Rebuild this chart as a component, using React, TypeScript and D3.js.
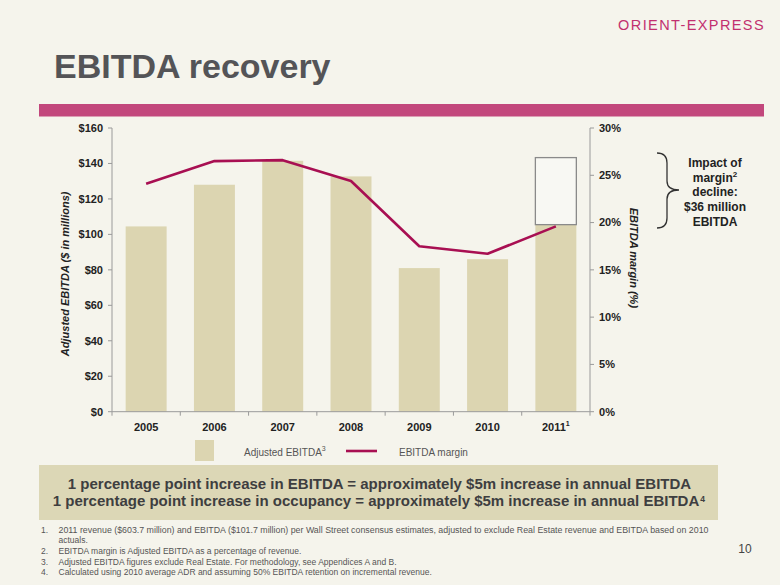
import React, { useLayoutEffect, useRef, useState } from 'react';
import * as d3 from 'd3';

const years = ['2005', '2006', '2007', '2008', '2009', '2010', '2011'];
const ebitda = [104.5, 128, 141.5, 132.7, 81, 86, 105.5];
const margin = [24.1, 26.5, 26.6, 24.4, 17.5, 16.7, 19.6];
const impactTop = 143.3; // top of the "margin decline" box on the 2011 bar
const leftTicks = [0, 20, 40, 60, 80, 100, 120, 140, 160];
const rightTicks = [0, 5, 10, 15, 20, 25, 30];
const braceLines = ['Impact of', 'margin', 'decline:', '$36 million', 'EBITDA'];
const highlight = [
  '1 percentage point increase in EBITDA = approximately $5m increase in annual EBITDA',
  '1 percentage point increase in occupancy = approximately $5m increase in annual EBITDA',
];
const footnotes = [
  '2011 revenue ($603.7 million) and EBITDA ($101.7 million) per Wall Street consensus estimates, adjusted to exclude Real Estate revenue and EBITDA based on 2010',
  'EBITDA margin is Adjusted EBITDA as a percentage of revenue.',
  'Adjusted EBITDA figures exclude Real Estate. For methodology, see Appendices A and B.',
  'Calculated using 2010 average ADR and assuming 50% EBITDA retention on incremental revenue.',
];

const BG = '#f5f4ec';
const BAR = '#dcd5b1';
const LINE = '#a80f52';
const AXIS = '#9a9a9a';
const FONT = 'Liberation Sans, Arial, sans-serif';
const NARROW = '"Liberation Sans Narrow", "Arial Narrow", Liberation Sans, Arial, sans-serif';

const App: React.FC = () => {
  const W = 780, H = 585;
  const left = 112, right = 590, top = 128, bottom = 411.7;

  // measure the second highlight line so the footnote mark sits right after it
  const line2Ref = useRef<SVGTextElement>(null);
  const [w2, setW2] = useState(650);
  useLayoutEffect(() => {
    if (line2Ref.current) setW2(line2Ref.current.getComputedTextLength());
  }, []);
  const line2X = 379 - (w2 + 6) / 2;

  const x = d3.scaleBand<string>().domain(years).range([left, right]).paddingInner(0.4).paddingOuter(0.2);
  const yL = d3.scaleLinear().domain([0, 160]).range([bottom, top]);
  const yR = d3.scaleLinear().domain([0, 30]).range([bottom, top]);
  const step = x.step();

  const line = d3.line<number>()
    .x((_, i) => (x(years[i]) || 0) + x.bandwidth() / 2)
    .y(d => yR(d));

  const last = years[years.length - 1];
  const boxX = x(last) || 0;

  return (
    <svg width={W} height={H} style={{ position: 'absolute', left: 0, top: 0 }} fontFamily={FONT}>
      <rect x={0} y={0} width={W} height={H} fill={BG} />

      {/* header */}
      <text x={765} y={30} textAnchor="end" fontSize={14.5} letterSpacing={1.4} fill="#c2306f">ORIENT-EXPRESS</text>
      <text x={54} y={78} fontSize={34} fontWeight="bold" fill="#545457">EBITDA recovery</text>
      <rect x={39} y={104} width={725} height={12.5} fill="#c2477c" />

      {/* bars */}
      {ebitda.map((v, i) => (
        <rect key={years[i]} x={x(years[i])} y={yL(v)} width={x.bandwidth()} height={bottom - yL(v)} fill={BAR} />
      ))}
      <rect x={boxX} y={yL(impactTop)} width={x.bandwidth()} height={yL(ebitda[ebitda.length - 1]) - yL(impactTop)}
        fill="#f8f8f3" stroke="#8a8a8a" strokeWidth={1.3} />

      {/* margin line */}
      <path d={line(margin) || ''} fill="none" stroke={LINE} strokeWidth={2.6} strokeLinejoin="round" />

      {/* left axis */}
      <line x1={left} x2={left} y1={top} y2={bottom} stroke={AXIS} />
      {leftTicks.map(t => (
        <g key={t}>
          <line x1={left - 4} x2={left} y1={yL(t)} y2={yL(t)} stroke={AXIS} />
          <text x={103} y={yL(t)} dy="0.35em" textAnchor="end" fontSize={11} fontWeight="bold" fill="#222">${t}</text>
        </g>
      ))}
      <text transform={`translate(69,${(top + bottom) / 2 + 4}) rotate(-90)`} textAnchor="middle" fontSize={11}
        fontWeight="bold" fontStyle="italic" fill="#222">Adjusted EBITDA ($ in millions)</text>

      {/* right axis */}
      <line x1={right} x2={right} y1={top} y2={bottom} stroke={AXIS} />
      {rightTicks.map(t => (
        <g key={t}>
          <line x1={right} x2={right + 4} y1={yR(t)} y2={yR(t)} stroke={AXIS} />
          <text x={599} y={yR(t)} dy="0.35em" fontSize={11} fontWeight="bold" fill="#222">{t}%</text>
        </g>
      ))}
      <text transform={`translate(630,${(top + bottom) / 2 - 12}) rotate(90)`} textAnchor="middle" fontSize={11}
        fontWeight="bold" fontStyle="italic" fill="#222">EBITDA margin (%)</text>

      {/* x axis */}
      <line x1={left} x2={right} y1={bottom} y2={bottom} stroke={AXIS} />
      {d3.range(years.length + 1).map(i => (
        <line key={i} x1={left + i * step} x2={left + i * step} y1={bottom} y2={bottom + 4} stroke={AXIS} />
      ))}
      {years.map(yr => (
        <text key={yr} x={(x(yr) || 0) + x.bandwidth() / 2} y={431} textAnchor="middle" fontSize={11} fontWeight="bold" fill="#222">
          {yr}
          {yr === last && <tspan fontSize={7} dy={-5}>1</tspan>}
        </text>
      ))}

      {/* brace annotation */}
      <path d="M657,153 Q667,153 667,163 L667,181 Q667,190 679,190 Q667,190 667,199 L667,218 Q667,228 657,228"
        fill="none" stroke="#333" strokeWidth={1.3} />
      {braceLines.map((l, i) => (
        <text key={l} x={715} y={167 + i * 14.7} textAnchor="middle" fontSize={12} fontWeight="bold" fill="#222">
          {l}
          {i === 1 && <tspan fontSize={8} dy={-5}>2</tspan>}
        </text>
      ))}

      {/* legend */}
      <rect x={195} y={440} width={19} height={21} fill={BAR} />
      <text x={244} y={456} fontSize={10} fill="#555">Adjusted EBITDA<tspan fontSize={7} dy={-5}>3</tspan></text>
      <line x1={346} x2={377} y1={451} y2={451} stroke={LINE} strokeWidth={2.6} />
      <text x={399} y={456} fontSize={10} fill="#555">EBITDA margin</text>

      {/* highlight box */}
      <rect x={39} y={465} width={679} height={55} fill="#dcd7b6" />
      <text x={379.5} y={488.5} textAnchor="middle" fontSize={15} fontWeight="bold" fill="#3e3e40" fontFamily={NARROW}>
        {highlight[0]}
      </text>
      <text ref={line2Ref} x={line2X} y={506} fontSize={15} fontWeight="bold" fill="#3e3e40" fontFamily={NARROW}>
        {highlight[1]}
      </text>
      <text x={line2X + w2 + 1} y={502} fontSize={8.5} fontWeight="bold" fill="#3e3e40">4</text>

      {/* footnotes */}
      <g fontSize={8.5} fill="#555" fontFamily={NARROW}>
        <text x={41} y={533}>1.</text>
        <text x={58.5} y={533} textLength={650} lengthAdjust="spacingAndGlyphs">{footnotes[0]}</text>
        <text x={58.5} y={543}>actuals.</text>
        <text x={41} y={554}>2.</text>
        <text x={58.5} y={554}>{footnotes[1]}</text>
        <text x={41} y={564.5}>3.</text>
        <text x={58.5} y={564.5}>{footnotes[2]}</text>
        <text x={41} y={575}>4.</text>
        <text x={58.5} y={575}>{footnotes[3]}</text>
      </g>
      <text x={745} y={553} textAnchor="middle" fontSize={12} fill="#444">10</text>
    </svg>
  );
};

export default App;
